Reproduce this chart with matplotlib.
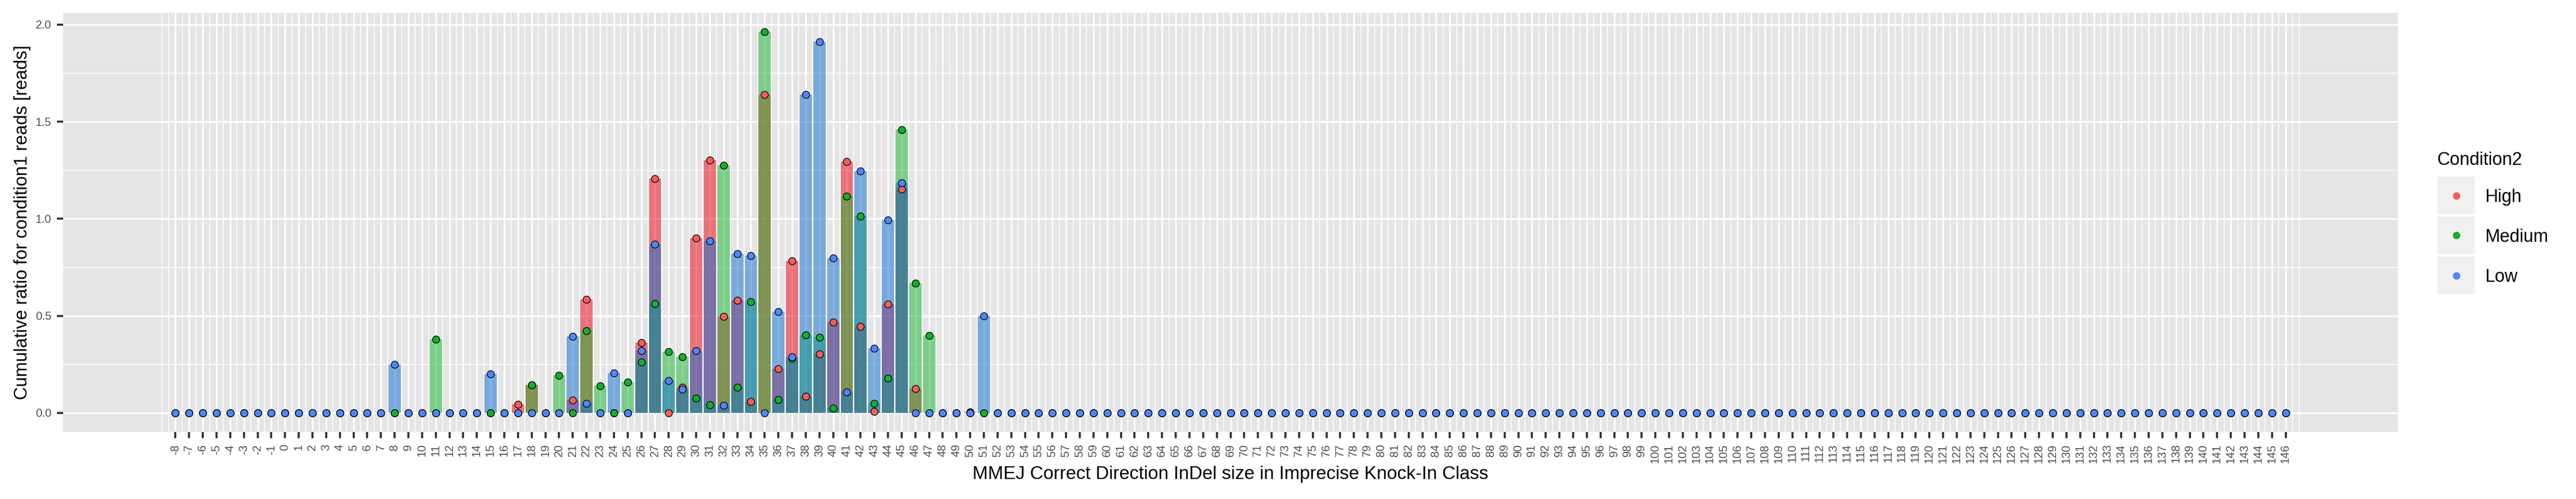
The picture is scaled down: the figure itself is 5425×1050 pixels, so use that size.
import numpy as np
import matplotlib
matplotlib.use('Agg')
import matplotlib.pyplot as plt
from matplotlib.patches import Rectangle
from matplotlib.lines import Line2D

plt.rcParams['font.family'] = ['Liberation Sans', 'DejaVu Sans']

# InDel size classes shown on the x axis
indel_sizes = list(range(-8, 147))

# classes that have reads in at least one condition (all others read 0)
active_sizes = list(range(8, 52))
high_active = [0, 0, 0, 0, 0, 0, 0, 0, 0, 0.045,
               0.145, 0, 0, 0.067, 0.585, 0, 0, 0, 0.362, 1.206,
               0, 0.131, 0.900, 1.301, 0.496, 0.580, 0.059, 1.639, 0.228, 0.784,
               0.086, 0.303, 0.468, 1.296, 0.445, 0.008, 0.560, 1.154, 0.124, 0,
               0, 0, 0.005, 0]
medium_active = [0, 0, 0, 0.380, 0, 0, 0, 0, 0, 0,
                 0.145, 0, 0.194, 0, 0.423, 0.139, 0, 0.159, 0.261, 0.563,
                 0.316, 0.289, 0.076, 0.041, 1.275, 0.131, 0.573, 1.963, 0.069, 0.282,
                 0.402, 0.388, 0.025, 1.115, 1.013, 0.049, 0.178, 1.459, 0.667, 0.399,
                 0, 0, 0, 0]
low_active = [0.250, 0, 0, 0, 0, 0, 0, 0.200, 0, 0,
              0, 0, 0, 0.395, 0.049, 0, 0.205, 0, 0.320, 0.869,
              0.167, 0.121, 0.320, 0.886, 0.038, 0.819, 0.809, 0, 0.521, 0.288,
              1.639, 1.911, 0.799, 0.108, 1.247, 0.333, 0.993, 1.184, 0, 0,
              0, 0, 0, 0.499]

conditions = ['High', 'Medium', 'Low']
point_colors = ['#F25F5C', '#17AD2F', '#5186F6']
bar_colors = ['#EA0010', '#17B52F', '#0F6FD1']


def full_series(active_vals):
    lookup = dict(zip(active_sizes, active_vals))
    return [lookup.get(s, 0.0) for s in indel_sizes]


series = [full_series(high_active), full_series(medium_active), full_series(low_active)]

W, H = 5425, 1050
fig = plt.figure(figsize=(W / 100, H / 100), dpi=100)
ax = fig.add_axes([133 / W, 1 - 909 / H, (5050 - 133) / W, (909 - 27) / H])
ax.set_facecolor('#E5E5E5')
for sp in ax.spines.values():
    sp.set_visible(False)
ax.set_axisbelow(True)

x = np.array(indel_sizes)

# overlapping bars, one layer per condition
for vals, bc in zip(series, bar_colors):
    ax.bar(x, vals, width=0.9, color=bc, alpha=0.5, linewidth=0, zorder=2)

# points on top of the bars
for vals, pc in zip(series, point_colors):
    ax.plot(x, vals, linestyle='none', marker='o', ms=10.8, mfc=pc,
            mec='black', mew=1.1, zorder=3)

# ggplot-like 5% expansion
lo, hi = x.min() - 0.45, x.max() + 0.45
pad = 0.05 * (hi - lo)
ax.set_xlim(lo - pad, hi + pad)
ymax = max(max(v) for v in series)
ax.set_ylim(-0.05 * ymax, 1.05 * ymax)

ax.set_xticks(x)
ax.set_xticklabels([str(s) for s in indel_sizes], rotation=90, fontsize=17.3,
                   color='#4D4D4D')
ax.set_xticks(np.arange(x.min() - 1, x.max() + 1.5, 0.5), minor=True)
yt = [0, 0.5, 1.0, 1.5, 2.0]
ax.set_yticks(yt)
ax.set_yticklabels(['%.1f' % v for v in yt], fontsize=17.3, color='#4D4D4D')
ax.set_yticks([0.25, 0.75, 1.25, 1.75], minor=True)
ax.tick_params(which='major', length=9.4, width=3.2, color='#333333')
ax.tick_params(axis='x', which='major', pad=9)
ax.tick_params(axis='y', which='major', pad=8.6)
ax.tick_params(which='minor', length=0)
ax.grid(which='major', color='white', linewidth=2.5)
ax.grid(which='minor', color='white', linewidth=1.25)

ax.set_xlabel('MMEJ Correct Direction InDel size in Imprecise Knock-In Class',
              fontsize=28, labelpad=4)
ax.set_ylabel('Cumulative ratio for condition1 reads [reads]', fontsize=27.4,
              labelpad=7)

# legend, drawn by hand to get the grey key boxes
fig.text(5132 / W, 1 - 347 / H, 'Condition2', fontsize=27, ha='left', va='baseline')
for i, (name, pc) in enumerate(zip(conditions, point_colors)):
    top = 372 + i * 84
    fig.add_artist(Rectangle((5133 / W, 1 - (top + 79) / H), 79 / W, 79 / H,
                             transform=fig.transFigure, facecolor='#F0F0F0',
                             edgecolor='none'))
    cy = top + 39.5
    fig.add_artist(Line2D([5172.5 / W], [1 - cy / H], marker='o', ms=11.3, mfc=pc,
                          mec='none', linestyle='none', transform=fig.transFigure))
    fig.text(5234 / W, 1 - (cy + 13.5) / H, name, fontsize=27, ha='left',
             va='baseline')

fig.savefig('out.png', dpi=100)
